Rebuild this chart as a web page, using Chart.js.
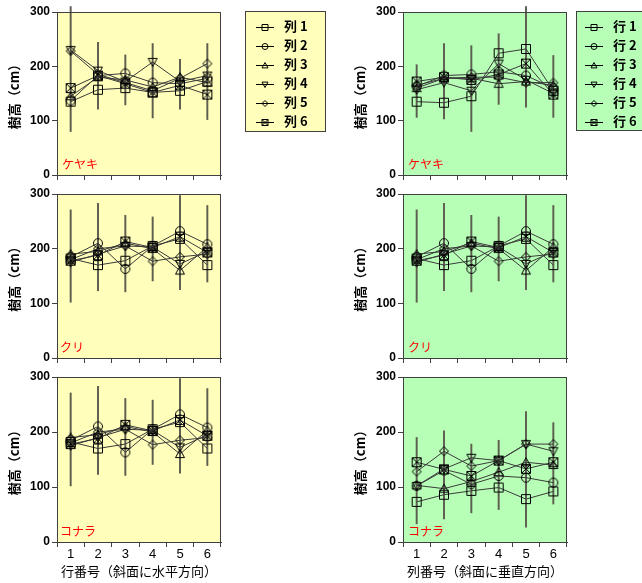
<!DOCTYPE html>
<html lang="ja">
<head>
<meta charset="UTF-8">
<title>樹高</title>
<script src="https://cdn.jsdelivr.net/npm/chart.js"></script>
<style>
  body { margin: 0; background: #fff; width: 642px; height: 583px; position: relative; overflow: hidden;
         font-family: 'Liberation Sans', 'Noto Sans CJK JP', sans-serif; }
  canvas { position: absolute; }
  .tag { position: absolute; color: #ff0000; font-size: 12px; font-family: 'Noto Sans CJK JP', sans-serif; line-height: 14px; }
  .legend { position: absolute; border: 1px solid #404040; box-sizing: border-box; padding-top: 4px; }
  .legend div { height: 19px; line-height: 19px; font-size: 13px; font-weight: bold; color: #000; white-space: nowrap;
                font-family: 'Noto Sans CJK JP', sans-serif; }
  .legend canvas { position: static; vertical-align: middle; margin-right: 10px; }
</style>
</head>
<body>
<canvas id="p11" width="228" height="185" style="left:0;top:0"></canvas>
<canvas id="p12" width="228" height="185" style="left:346px;top:0"></canvas>
<canvas id="p21" width="228" height="186" style="left:0;top:182px"></canvas>
<canvas id="p22" width="228" height="186" style="left:346px;top:182px"></canvas>
<canvas id="p31" width="228" height="218" style="left:0;top:365px"></canvas>
<canvas id="p32" width="228" height="218" style="left:346px;top:365px"></canvas>

<div class="tag" style="left:62px;top:157px">ケヤキ</div>
<div class="tag" style="left:408px;top:157px">ケヤキ</div>
<div class="tag" style="left:60px;top:340px">クリ</div>
<div class="tag" style="left:408px;top:340px">クリ</div>
<div class="tag" style="left:60px;top:524px">コナラ</div>
<div class="tag" style="left:408px;top:524px">コナラ</div>

<div class="legend" id="legL" style="left:245px;top:11px;width:81px;height:121px;background:#ffffbb;padding-left:10px"></div>
<div class="legend" id="legR" style="left:576px;top:11px;width:70px;height:120px;background:#b7ffb7;padding-left:8px"></div>

<script>
const positions = ['1', '2', '3', '4', '5', '6'];
const colNames = ['列1', '列2', '列3', '列4', '列5', '列6'];
const rowNames = ['行1', '行2', '行3', '行4', '行5', '行6'];
const markers = ['square', 'circle', 'triangle', 'down', 'diamond', 'boxx'];

// ケヤキ, by row number (series = 列)
const keyakiByRow = [
  [135, 157, 160, 152, 155, 172],
  [137, 183, 187, 170, 168, 178],
  [145, 180, 175, 162, 180, 170],
  [230, 192, 172, 208, 172, 183],
  [228, 185, 170, 155, 178, 205],
  [160, 183, 168, 152, 165, 148]
];
const keyakiRowErr = [[80, 310], [121, 244], [129, 221], [105, 242], [121, 213], [102, 242]];

// ケヤキ, by column number (series = 行)
const keyakiByCol = [
  [135, 133, 145, 224, 232, 155],
  [163, 183, 185, 190, 183, 160],
  [160, 178, 178, 168, 172, 165],
  [157, 170, 155, 205, 175, 150],
  [165, 178, 180, 180, 170, 170],
  [172, 180, 175, 185, 205, 148]
];
const keyakiColErr = [[106, 203], [103, 242], [80, 238], [130, 260], [125, 310], [106, 220]];

// クリ
const kuriSeries = [
  [182, 170, 178, 205, 218, 170],
  [185, 210, 163, 205, 232, 208],
  [190, 195, 210, 200, 160, 203],
  [175, 190, 205, 203, 172, 195],
  [180, 200, 205, 177, 185, 190],
  [178, 188, 213, 202, 222, 193]
];
const kuriErr = [[102, 271], [123, 283], [121, 261], [141, 258], [125, 297], [139, 279]];

// コナラ, by row number (same as クリ in the source figure)
const konaraByRow = kuriSeries;
const konaraRowErr = kuriErr;

// コナラ, by column number
const konaraByCol = [
  [73, 86, 93, 99, 78, 92],
  [102, 130, 105, 120, 117, 108],
  [103, 97, 110, 127, 145, 140],
  [102, 133, 153, 148, 178, 165],
  [128, 165, 138, 148, 178, 178],
  [145, 132, 120, 148, 133, 145]
];
const konaraColErr = [[33, 190], [42, 202], [53, 178], [59, 185], [27, 237], [69, 217]];

const yTicks = [0, 100, 200, 300];

function drawMarker(ctx, kind, cx, cy, r) {
  ctx.beginPath();
  if (kind === 'square' || kind === 'boxx') {
    ctx.rect(cx - r, cy - r, 2 * r, 2 * r);
    if (kind === 'boxx') {
      ctx.moveTo(cx - r, cy - r); ctx.lineTo(cx + r, cy + r);
      ctx.moveTo(cx + r, cy - r); ctx.lineTo(cx - r, cy + r);
    }
  } else if (kind === 'circle') {
    ctx.arc(cx, cy, r, 0, Math.PI * 2);
  } else if (kind === 'triangle') {
    ctx.moveTo(cx, cy - r); ctx.lineTo(cx + r, cy + r * 0.8); ctx.lineTo(cx - r, cy + r * 0.8); ctx.closePath();
  } else if (kind === 'down') {
    ctx.moveTo(cx, cy + r); ctx.lineTo(cx + r, cy - r * 0.8); ctx.lineTo(cx - r, cy - r * 0.8); ctx.closePath();
  } else if (kind === 'diamond') {
    ctx.moveTo(cx, cy - r); ctx.lineTo(cx + r, cy); ctx.lineTo(cx, cy + r); ctx.lineTo(cx - r, cy); ctx.closePath();
  }
  ctx.stroke();
}

function markerImage(kind) {
  const c = document.createElement('canvas');
  c.width = 12; c.height = 12;
  const ctx = c.getContext('2d');
  ctx.strokeStyle = '#000';
  ctx.lineWidth = 1;
  drawMarker(ctx, kind, 6, 6, 4.5);
  return c;
}
const markerImgs = markers.map(markerImage);

const panelFrame = {
  id: 'panelFrame',
  beforeDraw(chart, args, opts) {
    const a = chart.chartArea, ctx = chart.ctx;
    ctx.save();
    ctx.fillStyle = opts.bg;
    ctx.fillRect(a.left, a.top, a.right - a.left, a.bottom - a.top);
    ctx.restore();
  },
  afterDraw(chart) {
    const a = chart.chartArea, ctx = chart.ctx;
    ctx.save();
    ctx.strokeStyle = '#404040';
    ctx.lineWidth = 1;
    ctx.strokeRect(a.left + 0.5, a.top + 0.5, a.right - a.left - 1, a.bottom - a.top);
    ctx.restore();
  }
};

function makePanel(id, series, errs, bg, names, xTitle) {
  const bottom = !!xTitle;
  const datasets = [{
    type: 'bar',
    data: errs,
    backgroundColor: '#5e5e50',
    barThickness: 1.3,
    order: 2,
    clip: false
  }];
  series.forEach((vals, i) => {
    datasets.push({
      type: 'line',
      label: names[i],
      data: vals,
      borderColor: '#3a3a3a',
      borderWidth: 1,
      pointStyle: markerImgs[i],
      pointRadius: 5,
      tension: 0,
      order: 1
    });
  });
  new Chart(document.getElementById(id), {
    data: { labels: positions, datasets },
    plugins: [panelFrame],
    options: {
      responsive: false,
      animation: false,
      layout: { padding: { top: 12, right: 7, left: 0, bottom: 0 } },
      plugins: { legend: { display: false }, tooltip: { enabled: false }, panelFrame: { bg } },
      scales: {
        x: {
          type: 'category',
          offset: true,
          grid: { offset: true, drawOnChartArea: false, tickLength: 5, color: '#404040' },
          border: { color: '#404040' },
          ticks: { display: bottom, padding: 0, color: '#000', font: { size: 13, family: "'Liberation Sans', sans-serif" } },
          title: { display: bottom, text: xTitle || '', color: '#000', padding: { top: 2, bottom: 4 },
                   font: { size: 13, family: "'Noto Sans CJK JP', sans-serif" } },
          afterFit(s) { s.height = bottom ? 41 : 10; }
        },
        y: {
          min: 0, max: 300,
          afterBuildTicks(s) { s.ticks = yTicks.map(v => ({ value: v })); },
          grid: { drawOnChartArea: false, tickLength: 5, color: '#404040' },
          border: { color: '#404040' },
          ticks: { padding: 2, color: '#000', font: { size: 12, weight: 'bold', family: "'Liberation Sans', sans-serif" } },
          title: { display: true, text: '樹高（cm）', color: '#000', padding: { top: 6, bottom: 0 },
                   font: { size: 13, weight: 'bold', family: "'Noto Sans CJK JP', sans-serif" } },
          afterFit(s) { s.width = 57; }
        }
      }
    }
  });
}

const yellow = '#ffffbb';
const green = '#b7ffb7';
makePanel('p11', keyakiByRow, keyakiRowErr, yellow, colNames);
makePanel('p12', keyakiByCol, keyakiColErr, green, rowNames);
makePanel('p21', kuriSeries, kuriErr, yellow, colNames);
makePanel('p22', kuriSeries, kuriErr, green, rowNames);
makePanel('p31', konaraByRow, konaraRowErr, yellow, colNames, '行番号（斜面に水平方向）');
makePanel('p32', konaraByCol, konaraColErr, green, rowNames, '列番号（斜面に垂直方向）');

function fillLegend(el, names) {
  names.forEach((n, i) => {
    const row = document.createElement('div');
    const c = document.createElement('canvas');
    c.width = 18; c.height = 9;
    const ctx = c.getContext('2d');
    ctx.strokeStyle = '#000';
    ctx.lineWidth = 1;
    ctx.beginPath(); ctx.moveTo(0, 4.5); ctx.lineTo(18, 4.5); ctx.stroke();
    drawMarker(ctx, markers[i], 9, 4.5, 3);
    row.appendChild(c);
    row.appendChild(document.createTextNode(n.charAt(0) + ' ' + n.charAt(1)));
    el.appendChild(row);
  });
}
fillLegend(document.getElementById('legL'), colNames);
fillLegend(document.getElementById('legR'), rowNames);
</script>
</body>
</html>
